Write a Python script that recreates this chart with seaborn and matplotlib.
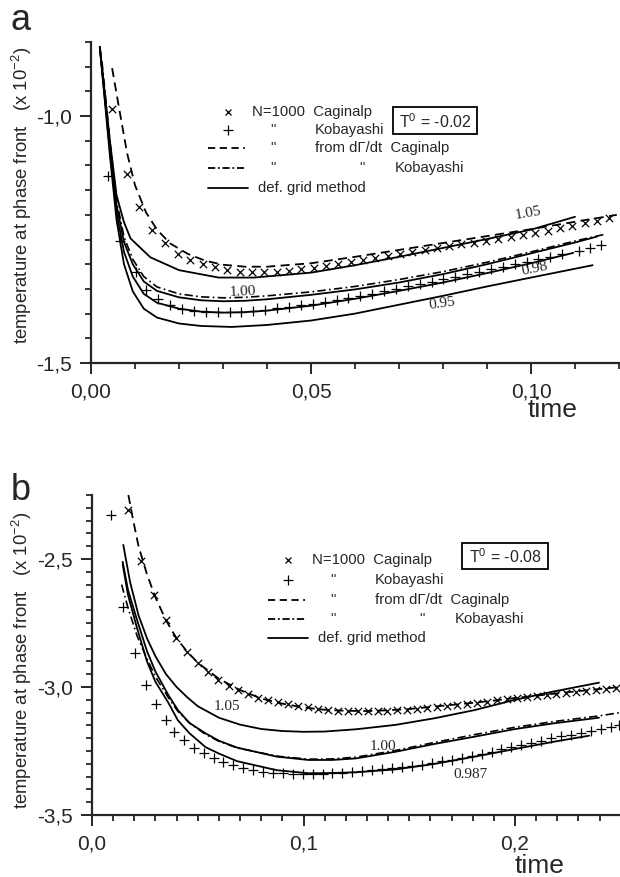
import matplotlib
matplotlib.use("Agg")
import matplotlib.pyplot as plt
import seaborn as sns
from matplotlib.lines import Line2D
from matplotlib.patches import Rectangle
from matplotlib.ticker import MultipleLocator, FuncFormatter

# ---- panel a (T0 = -0.02) ----
a_cag_t = [0.0048, 0.0082, 0.0110, 0.0139, 0.0168, 0.0197, 0.0226, 0.0254, 0.0282, 0.0310,
           0.0338, 0.0366, 0.0394, 0.0422, 0.0450, 0.0478, 0.0506, 0.0534, 0.0562, 0.0590,
           0.0618, 0.0646, 0.0674, 0.0702, 0.0730, 0.0758, 0.0786, 0.0814, 0.0842, 0.0870,
           0.0898, 0.0926, 0.0954, 0.0982, 0.1010, 0.1038, 0.1066, 0.1094, 0.1122, 0.1150, 0.1178]
a_cag_T = [-0.986, -1.117, -1.185, -1.230, -1.257, -1.279, -1.291, -1.299, -1.306, -1.311,
           -1.315, -1.316, -1.316, -1.315, -1.313, -1.310, -1.307, -1.304, -1.300, -1.296,
           -1.292, -1.288, -1.284, -1.280, -1.276, -1.272, -1.268, -1.264, -1.260, -1.256,
           -1.252, -1.248, -1.244, -1.240, -1.236, -1.232, -1.227, -1.222, -1.217, -1.212, -1.207]

a_kob_t = [0.0039, 0.0067, 0.0103, 0.0126, 0.0153, 0.0180, 0.0207, 0.0234, 0.0261, 0.0288,
           0.0315, 0.0342, 0.0369, 0.0396, 0.0423, 0.0450, 0.0477, 0.0504, 0.0531, 0.0558,
           0.0585, 0.0612, 0.0639, 0.0666, 0.0693, 0.0720, 0.0747, 0.0774, 0.0801, 0.0828,
           0.0855, 0.0882, 0.0909, 0.0936, 0.0963, 0.0990, 0.1017, 0.1044, 0.1071, 0.1110,
           0.1135, 0.1160]
a_kob_T = [-1.121, -1.252, -1.316, -1.352, -1.370, -1.383, -1.390, -1.394, -1.396, -1.397,
           -1.397, -1.396, -1.394, -1.392, -1.389, -1.386, -1.383, -1.380, -1.376, -1.372,
           -1.368, -1.364, -1.360, -1.355, -1.350, -1.345, -1.340, -1.335, -1.330, -1.325,
           -1.320, -1.315, -1.310, -1.305, -1.300, -1.295, -1.290, -1.285, -1.280, -1.273,
           -1.268, -1.262]

a_dcag_t = [0.0048, 0.0065, 0.0082, 0.0100, 0.0125, 0.015, 0.018, 0.022, 0.026, 0.030,
            0.035, 0.040, 0.050, 0.060, 0.070, 0.080, 0.090, 0.100, 0.110, 0.1195]
a_dcag_T = [-0.903, -0.990, -1.075, -1.140, -1.195, -1.230, -1.258, -1.279, -1.293, -1.301,
            -1.305, -1.305, -1.298, -1.285, -1.271, -1.257, -1.243, -1.229, -1.214, -1.200]

a_dkob_t = [0.0025, 0.0043, 0.0058, 0.0075, 0.0095, 0.012, 0.015, 0.020, 0.025, 0.030,
            0.035, 0.040, 0.050, 0.060, 0.070, 0.080, 0.090, 0.100, 0.110, 0.117]
a_dkob_T = [-0.890, -1.050, -1.170, -1.245, -1.290, -1.325, -1.346, -1.360, -1.366, -1.368,
            -1.367, -1.364, -1.356, -1.345, -1.331, -1.315, -1.296, -1.275, -1.253, -1.239]

a_g105_t = [0.0020, 0.0043, 0.0058, 0.0075, 0.0090, 0.0135, 0.0200, 0.0290, 0.0370, 0.0500,
            0.0600, 0.0700, 0.0800, 0.0900, 0.1000, 0.1100]
a_g105_T = [-0.860, -1.050, -1.160, -1.215, -1.248, -1.286, -1.312, -1.327, -1.327, -1.317,
            -1.302, -1.285, -1.267, -1.249, -1.230, -1.204]

a_g100_t = [0.0020, 0.0043, 0.0058, 0.0075, 0.0095, 0.012, 0.015, 0.020, 0.025, 0.030,
            0.035, 0.040, 0.050, 0.060, 0.070, 0.080, 0.090, 0.100, 0.110, 0.115]
a_g100_T = [-0.860, -1.060, -1.180, -1.255, -1.300, -1.335, -1.354, -1.367, -1.373, -1.375,
            -1.374, -1.371, -1.362, -1.351, -1.337, -1.320, -1.300, -1.278, -1.256, -1.244]

a_g098_t = [0.0020, 0.0043, 0.0058, 0.0075, 0.0095, 0.012, 0.015, 0.020, 0.025, 0.030,
            0.035, 0.040, 0.050, 0.060, 0.070, 0.080, 0.090, 0.100, 0.1096]
a_g098_T = [-0.860, -1.070, -1.195, -1.275, -1.325, -1.360, -1.378, -1.390, -1.396, -1.398,
            -1.397, -1.394, -1.384, -1.370, -1.354, -1.337, -1.318, -1.298, -1.277]

a_g095_t = [0.0020, 0.0043, 0.0058, 0.0075, 0.0095, 0.012, 0.015, 0.020, 0.025, 0.032,
            0.040, 0.050, 0.060, 0.070, 0.080, 0.090, 0.100, 0.114]
a_g095_T = [-0.860, -1.080, -1.210, -1.300, -1.355, -1.390, -1.408, -1.420, -1.425, -1.427,
            -1.423, -1.414, -1.400, -1.382, -1.364, -1.345, -1.327, -1.302]

# ---- panel b (T0 = -0.08) ----
b_cag_t = [0.0172, 0.0231, 0.0294, 0.0348, 0.0397, 0.0448, 0.0503, 0.0550, 0.0597, 0.0649,
           0.0692, 0.0739, 0.0786, 0.0833, 0.0880, 0.0927, 0.0974, 0.1021, 0.1068, 0.1115,
           0.1162, 0.1209, 0.1256, 0.1303, 0.1350, 0.1397, 0.1444, 0.1491, 0.1538, 0.1585,
           0.1632, 0.1679, 0.1726, 0.1773, 0.1820, 0.1867, 0.1914, 0.1961, 0.2008, 0.2055,
           0.2102, 0.2149, 0.2196, 0.2243, 0.2290, 0.2337, 0.2384, 0.2431, 0.2478]
b_cag_T = [-2.310, -2.507, -2.641, -2.738, -2.810, -2.862, -2.907, -2.940, -2.973, -2.996,
           -3.012, -3.027, -3.044, -3.051, -3.058, -3.066, -3.074, -3.080, -3.085, -3.089,
           -3.092, -3.094, -3.095, -3.095, -3.094, -3.092, -3.090, -3.088, -3.085, -3.081,
           -3.077, -3.073, -3.069, -3.065, -3.061, -3.057, -3.052, -3.047, -3.043, -3.039,
           -3.035, -3.031, -3.027, -3.023, -3.019, -3.015, -3.011, -3.007, -3.003]

b_kob_t = [0.0088, 0.0148, 0.0203, 0.0254, 0.0301, 0.0350, 0.0388, 0.0434, 0.0481, 0.0528,
           0.0575, 0.0621, 0.0668, 0.0715, 0.0762, 0.0808, 0.0855, 0.0902, 0.0949, 0.0996,
           0.1043, 0.1090, 0.1137, 0.1184, 0.1231, 0.1278, 0.1325, 0.1372, 0.1419, 0.1466,
           0.1513, 0.1560, 0.1607, 0.1654, 0.1701, 0.1748, 0.1795, 0.1842, 0.1889, 0.1936,
           0.1983, 0.2030, 0.2077, 0.2124, 0.2171, 0.2218, 0.2265, 0.2312, 0.2359, 0.2406,
           0.2453, 0.2490]
b_kob_T = [-2.328, -2.686, -2.868, -2.992, -3.067, -3.129, -3.175, -3.207, -3.239, -3.259,
           -3.279, -3.292, -3.305, -3.318, -3.324, -3.331, -3.335, -3.337, -3.338, -3.339,
           -3.339, -3.338, -3.337, -3.335, -3.332, -3.329, -3.326, -3.322, -3.318, -3.313,
           -3.308, -3.303, -3.297, -3.291, -3.284, -3.277, -3.269, -3.261, -3.253, -3.244,
           -3.235, -3.226, -3.217, -3.209, -3.201, -3.193, -3.186, -3.179, -3.172, -3.165,
           -3.158, -3.150]

b_dcag_t = [0.0172, 0.0195, 0.022, 0.026, 0.030, 0.035, 0.040, 0.045, 0.050, 0.060,
            0.070, 0.080, 0.090, 0.100, 0.110, 0.120, 0.130, 0.140, 0.150, 0.160,
            0.170, 0.180, 0.190, 0.200, 0.210, 0.220, 0.230, 0.240, 0.2496]
b_dcag_T = [-2.250, -2.350, -2.450, -2.560, -2.650, -2.740, -2.810, -2.862, -2.905, -2.968,
            -3.012, -3.045, -3.065, -3.080, -3.089, -3.093, -3.094, -3.091, -3.086, -3.078,
            -3.070, -3.062, -3.053, -3.043, -3.034, -3.025, -3.016, -3.008, -3.000]

b_dkob_t = [0.0140, 0.017, 0.0213, 0.026, 0.030, 0.036, 0.0406, 0.046, 0.0537, 0.060,
            0.0687, 0.0874, 0.1023, 0.1135, 0.1248, 0.1435, 0.1622, 0.1809, 0.1995, 0.2182,
            0.2397, 0.2496]
b_dkob_T = [-2.600, -2.690, -2.800, -2.890, -2.960, -3.040, -3.095, -3.140, -3.185, -3.212,
            -3.238, -3.270, -3.282, -3.281, -3.274, -3.248, -3.216, -3.186, -3.158, -3.135,
            -3.113, -3.100]

b_g105_t = [0.0148, 0.018, 0.022, 0.026, 0.030, 0.035, 0.040, 0.045, 0.050, 0.060,
            0.070, 0.080, 0.090, 0.100, 0.110, 0.125, 0.1435, 0.162, 0.181, 0.1995,
            0.218, 0.2397]
b_g105_T = [-2.445, -2.590, -2.720, -2.810, -2.880, -2.950, -3.000, -3.040, -3.075, -3.120,
            -3.147, -3.164, -3.172, -3.175, -3.174, -3.165, -3.148, -3.122, -3.090, -3.051,
            -3.018, -2.983]

b_g100_t = [0.0145, 0.017, 0.0213, 0.026, 0.030, 0.036, 0.0406, 0.046, 0.0537, 0.060,
            0.0687, 0.0874, 0.1023, 0.1135, 0.1248, 0.1435, 0.1622, 0.1809, 0.1995, 0.2182,
            0.2397]
b_g100_T = [-2.511, -2.620, -2.738, -2.860, -2.940, -3.030, -3.090, -3.140, -3.181, -3.210,
            -3.237, -3.272, -3.285, -3.285, -3.279, -3.253, -3.222, -3.194, -3.165, -3.142,
            -3.120]

b_g0987_t = [0.0145, 0.017, 0.0213, 0.026, 0.030, 0.036, 0.0406, 0.046, 0.0537, 0.060,
             0.0687, 0.0874, 0.1023, 0.1135, 0.1248, 0.1435, 0.1622, 0.1809, 0.1995, 0.2182,
             0.2351]
b_g0987_T = [-2.520, -2.640, -2.770, -2.900, -2.980, -3.060, -3.130, -3.180, -3.235, -3.260,
             -3.290, -3.325, -3.337, -3.336, -3.333, -3.322, -3.300, -3.272, -3.243, -3.214,
             -3.190]

sns.set_style("ticks")
plt.rcParams["font.family"] = ["Liberation Sans", "DejaVu Sans"]
plt.rcParams["mathtext.fontset"] = "custom"
plt.rcParams["mathtext.rm"] = "Liberation Sans"
plt.rcParams["mathtext.it"] = "Liberation Sans:italic"

W, H = 620, 877
fig = plt.figure(figsize=(W / 100, H / 100), dpi=100)


def px(x, y):
    return x / W, 1 - y / H


def fmt(nd):
    return FuncFormatter(lambda v, p: f"{v:.{nd}f}".replace(".", ",").replace("\u2212", "-"))


def style_axis(ax, xmaj, xmin, ylo, yhi, xmax, xnd):
    ax.set_xlim(0, xmax)
    ax.set_ylim(ylo, yhi)
    sns.despine(ax=ax)
    for s in ("left", "bottom"):
        ax.spines[s].set_linewidth(1.6)
    ax.xaxis.set_major_locator(MultipleLocator(xmaj))
    ax.xaxis.set_minor_locator(MultipleLocator(xmin))
    ax.yaxis.set_major_locator(MultipleLocator(0.5))
    ax.yaxis.set_minor_locator(MultipleLocator(0.05))
    ax.xaxis.set_major_formatter(fmt(xnd))
    ax.yaxis.set_major_formatter(fmt(1))
    ax.tick_params(which="major", direction="out", length=8, width=1.4, labelsize=15, pad=6)
    ax.tick_params(which="minor", direction="out", length=4.5, width=1.3)
    ax.set_xlabel("")
    ax.set_ylabel("")


def draw(ax, cag, kob, dcag, dkob, grids):
    sns.lineplot(x=dcag[0], y=dcag[1], ax=ax, color="black", lw=1.3, sort=False,
                 estimator=None, linestyle=(0, (5, 3)))
    sns.lineplot(x=dkob[0], y=dkob[1], ax=ax, color="black", lw=1.2, sort=False,
                 estimator=None, linestyle=(0, (5, 2, 1, 2)))
    for g in grids:
        sns.lineplot(x=g[0], y=g[1], ax=ax, color="black", lw=1.3, sort=False, estimator=None)
    sns.scatterplot(x=cag[0], y=cag[1], ax=ax, marker="x", color="black", s=28, linewidth=0.9)
    sns.scatterplot(x=kob[0], y=kob[1], ax=ax, marker="+", color="black", s=48, linewidth=0.9)


def legend(x0, rows, box, tlabel):
    # x0: marker x; rows: y of the 5 rows
    kw = dict(fontsize=10.7, va="center", ha="left")
    fig.add_artist(Line2D([px(x0, 0)[0]], [px(0, rows[0])[1]], marker="x", ms=5, mew=0.9,
                          color="black", transform=fig.transFigure))
    fig.add_artist(Line2D([px(x0, 0)[0]], [px(0, rows[1])[1]], marker="+", ms=6.5, mew=0.9,
                          color="black", transform=fig.transFigure))
    for r, ls in ((2, (0, (4, 2.5))), (3, (0, (4, 1.5, 1, 1.5))), (4, "-")):
        x_end = x0 + 20 if r == 4 else x0 + 17
        fig.add_artist(Line2D([px(x0 - 20, 0)[0], px(x_end, 0)[0]],
                              [px(0, rows[r])[1]] * 2, color="black", lw=1.3, ls=ls,
                              transform=fig.transFigure))
    fig.text(*px(x0 + 24, rows[0]), "N=1000  Caginalp", **kw)
    for r in (1, 2, 3):
        fig.text(*px(x0 + 45, rows[r]), '"', fontsize=10.7, va="center", ha="center")
    fig.text(*px(x0 + 87, rows[1]), "Kobayashi", **kw)
    fig.text(*px(x0 + 87, rows[2]), "from d\u0393/dt  Caginalp", **kw)
    fig.text(*px(x0 + 134, rows[3]), '"', fontsize=10.7, va="center", ha="center")
    fig.text(*px(x0 + 167, rows[3]), "Kobayashi", **kw)
    fig.text(*px(x0 + 30, rows[4]), "def. grid method", **kw)
    bx0, by0, bx1, by1 = box
    fig.add_artist(Rectangle(px(bx0, by1), (bx1 - bx0) / W, (by1 - by0) / H, fill=False,
                             lw=1.3, edgecolor="black", transform=fig.transFigure))
    fig.text(*px((bx0 + bx1) / 2, (by0 + by1) / 2 + 1), tlabel, fontsize=11.5,
             ha="center", va="center")


ylab = "temperature at phase front   (x 10$^{-2}$)"

# panel a
ax1 = fig.add_axes([91 / W, 1 - 363 / H, (W - 91) / W, (363 - 42) / H])
draw(ax1, (a_cag_t, a_cag_T), (a_kob_t, a_kob_T), (a_dcag_t, a_dcag_T), (a_dkob_t, a_dkob_T),
     [(a_g105_t, a_g105_T), (a_g100_t, a_g100_T), (a_g098_t, a_g098_T), (a_g095_t, a_g095_T)])
style_axis(ax1, 0.05, 0.01, -1.5, -0.85, (W - 91) / 4400, 2)
serif = dict(family="Liberation Serif", fontsize=11, ha="center", va="center")
fig.text(*px(528, 213), "1.05", rotation=10, **serif)
fig.text(*px(243, 292), "1.00", rotation=3, **serif)
fig.text(*px(535, 269), "0.98", rotation=12, **serif)
fig.text(*px(442, 304), "0.95", rotation=8, **serif)
legend(228, [112, 130, 148, 168, 188], (393, 107, 477, 134), "T$^0$ = -0.02")
fig.text(*px(22, 195), ylab, rotation=90, fontsize=13.3, ha="center", va="center")
fig.text(*px(553, 410), "time", fontsize=19, ha="center", va="center")
fig.text(*px(21, 20), "a", fontsize=26, ha="center", va="center")

# panel b
ax2 = fig.add_axes([92 / W, 1 - 815 / H, (W - 92) / W, (815 - 495) / H])
draw(ax2, (b_cag_t, b_cag_T), (b_kob_t, b_kob_T), (b_dcag_t, b_dcag_T), (b_dkob_t, b_dkob_T),
     [(b_g105_t, b_g105_T), (b_g100_t, b_g100_T), (b_g0987_t, b_g0987_T)])
style_axis(ax2, 0.1, 0.01, -3.5, -2.25, (W - 92) / 2115, 1)
fig.text(*px(227, 707), "1.05", **serif)
fig.text(*px(383, 746), "1.00", **serif)
fig.text(*px(470, 774), "0.987", **serif)
legend(288, [560, 580, 600, 619, 638], (462, 543, 548, 569), "T$^0$ = -0.08")
fig.text(*px(22, 660), ylab, rotation=90, fontsize=13.3, ha="center", va="center")
fig.text(*px(540, 866), "time", fontsize=19, ha="center", va="center")
fig.text(*px(21, 490), "b", fontsize=26, ha="center", va="center")

fig.savefig("out.png", dpi=100)
